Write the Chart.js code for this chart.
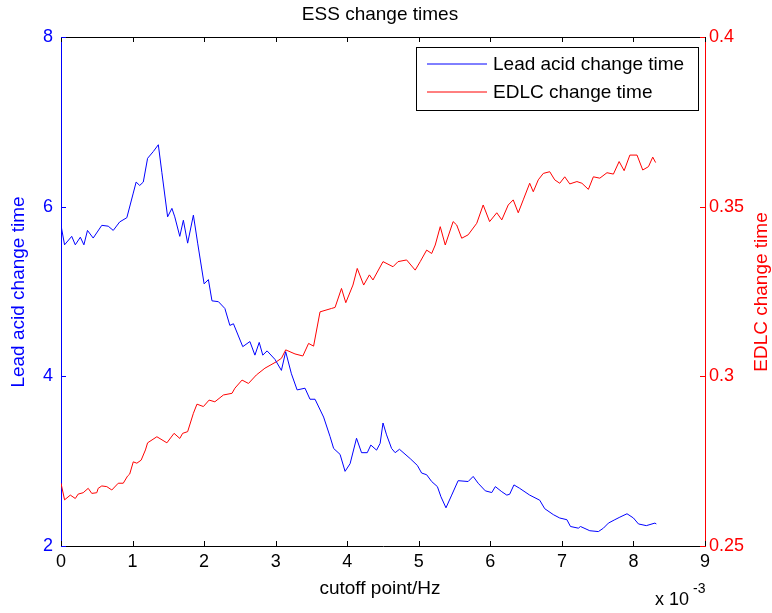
<!DOCTYPE html>
<html>
<head>
<meta charset="utf-8">
<title>ESS change times</title>
<script src="https://cdn.jsdelivr.net/npm/chart.js@4.4.1/dist/chart.umd.min.js"></script>
<style>
    body { margin: 0; background: #fff; }
    #wrap { width: 772px; height: 613px; }
</style>
</head>
<body>
<div id="wrap"><canvas id="essChart" width="772" height="613"></canvas></div>
<script>
// cutoff point in units of 1e-3 Hz
const leadX = [0.00, 0.05, 0.15, 0.20, 0.27, 0.32, 0.37, 0.45, 0.57, 0.66, 0.73, 0.82, 0.92, 1.01, 1.05, 1.10, 1.15, 1.21, 1.29, 1.36,
    1.41, 1.49, 1.55, 1.59, 1.66, 1.71, 1.77, 1.85, 1.91, 2.00, 2.06, 2.11, 2.20, 2.29, 2.36, 2.41, 2.54, 2.64, 2.71, 2.77,
    2.82, 2.88, 2.99, 3.08, 3.14, 3.22, 3.30, 3.41, 3.48, 3.55, 3.67, 3.76, 3.81, 3.90, 3.97, 4.04, 4.13, 4.20, 4.28, 4.33,
    4.41, 4.46, 4.50, 4.55, 4.62, 4.67, 4.73, 4.88, 4.98, 5.04, 5.11, 5.18, 5.26, 5.31, 5.38, 5.46, 5.55, 5.69, 5.76, 5.83,
    5.93, 6.02, 6.07, 6.16, 6.23, 6.27, 6.33, 6.41, 6.55, 6.69, 6.76, 6.88, 6.97, 7.07, 7.12, 7.23, 7.26, 7.39, 7.51, 7.58,
    7.65, 7.74, 7.81, 7.91, 8.00, 8.07, 8.18, 8.30, 8.32];
const leadY = [5.78, 5.55, 5.65, 5.55, 5.64, 5.55, 5.72, 5.63, 5.78, 5.77, 5.72, 5.82, 5.87, 6.16, 6.29, 6.25, 6.29, 6.57, 6.65, 6.73,
    6.40, 5.88, 5.98, 5.88, 5.65, 5.84, 5.57, 5.90, 5.57, 5.09, 5.14, 4.89, 4.88, 4.80, 4.60, 4.62, 4.35, 4.41, 4.25, 4.40,
    4.25, 4.30, 4.20, 4.07, 4.29, 4.03, 3.84, 3.86, 3.73, 3.73, 3.52, 3.29, 3.15, 3.08, 2.88, 2.97, 3.27, 3.10, 3.10, 3.19,
    3.13, 3.21, 3.45, 3.31, 3.15, 3.10, 3.14, 3.03, 2.95, 2.86, 2.84, 2.76, 2.70, 2.58, 2.45, 2.60, 2.77, 2.76, 2.82, 2.74,
    2.65, 2.63, 2.70, 2.64, 2.60, 2.61, 2.72, 2.68, 2.60, 2.54, 2.44, 2.37, 2.33, 2.31, 2.23, 2.21, 2.23, 2.18, 2.17, 2.21,
    2.27, 2.31, 2.34, 2.38, 2.33, 2.26, 2.24, 2.27, 2.26];

const edlcX = [0.00, 0.05, 0.13, 0.20, 0.24, 0.31, 0.38, 0.43, 0.50, 0.52, 0.57, 0.64, 0.71, 0.80, 0.87, 0.93, 0.96, 1.01, 1.06, 1.12,
    1.18, 1.21, 1.34, 1.48, 1.58, 1.66, 1.70, 1.77, 1.85, 1.90, 1.99, 2.07, 2.15, 2.27, 2.39, 2.43, 2.53, 2.62, 2.73, 2.85,
    3.01, 3.08, 3.14, 3.27, 3.38, 3.46, 3.53, 3.62, 3.78, 3.83, 3.92, 3.98, 4.08, 4.14, 4.23, 4.31, 4.36, 4.50, 4.64, 4.71,
    4.83, 4.95, 5.02, 5.11, 5.18, 5.23, 5.30, 5.37, 5.48, 5.53, 5.60, 5.69, 5.81, 5.90, 5.99, 6.09, 6.16, 6.25, 6.32, 6.39,
    6.46, 6.55, 6.60, 6.67, 6.74, 6.83, 6.90, 6.97, 7.04, 7.11, 7.21, 7.28, 7.37, 7.44, 7.53, 7.63, 7.72, 7.80, 7.87, 7.95,
    8.05, 8.13, 8.21, 8.27, 8.31];
const edlcY = [0.2685, 0.2636, 0.2650, 0.2640, 0.2653, 0.2657, 0.2670, 0.2655, 0.2657, 0.2670, 0.2677, 0.2675, 0.2665, 0.2685, 0.2685, 0.2706, 0.2712, 0.2748, 0.2744, 0.2753,
    0.2783, 0.2804, 0.2822, 0.2804, 0.2832, 0.2817, 0.2832, 0.2837, 0.2891, 0.2918, 0.2911, 0.2930, 0.2925, 0.2945, 0.2950, 0.2965, 0.2989, 0.2979, 0.3004, 0.3024,
    0.3043, 0.3053, 0.3078, 0.3066, 0.3060, 0.3097, 0.3089, 0.3190, 0.3200, 0.3203, 0.3259, 0.3217, 0.3269, 0.3318, 0.3269, 0.3299, 0.3284, 0.3338, 0.3323, 0.3338,
    0.3343, 0.3313, 0.3338, 0.3372, 0.3362, 0.3387, 0.3441, 0.3387, 0.3456, 0.3446, 0.3407, 0.3417, 0.3451, 0.3505, 0.3456, 0.3482, 0.3461, 0.3505, 0.3520, 0.3482,
    0.3520, 0.3569, 0.3544, 0.3579, 0.3598, 0.3603, 0.3579, 0.3569, 0.3588, 0.3567, 0.3574, 0.3569, 0.3551, 0.3588, 0.3584, 0.3600, 0.3596, 0.3633, 0.3606, 0.3652,
    0.3652, 0.3608, 0.3618, 0.3646, 0.3630];

const xTicks = [0, 1, 2, 3, 4, 5, 6, 7, 8, 9];
const leftTicks = [2, 4, 6, 8];
const rightTicks = [0.25, 0.3, 0.35, 0.4];
const seriesNames = ['Lead acid change time', 'EDLC change time'];

const FONT = '"Liberation Sans", Arial, sans-serif';
const BLUE = '#0000ff';
const RED = '#ff0000';

function toPoints(xs, ys) {
    return xs.map((x, i) => ({ x: x, y: ys[i] }));
}

// MATLAB style decorations: inward ticks, top border, legend, titles
const matlabDeco = {
    id: 'matlabDeco',
    afterDraw(chart) {
        const ctx = chart.ctx;
        const area = chart.chartArea;
        const sx = chart.scales.x, sy = chart.scales.y, sy1 = chart.scales.y1;
        const tl = 5;
        ctx.save();
        ctx.lineWidth = 1;

        // top border
        ctx.strokeStyle = '#000';
        ctx.beginPath();
        ctx.moveTo(area.left, area.top + 0.5);
        ctx.lineTo(area.right, area.top + 0.5);
        ctx.stroke();

        // x ticks bottom and top
        ctx.beginPath();
        xTicks.forEach(v => {
            const px = Math.round(sx.getPixelForValue(v)) + 0.5;
            ctx.moveTo(px, area.bottom);
            ctx.lineTo(px, area.bottom - tl);
            ctx.moveTo(px, area.top);
            ctx.lineTo(px, area.top + tl);
        });
        ctx.stroke();

        // left ticks (blue)
        ctx.strokeStyle = BLUE;
        ctx.beginPath();
        leftTicks.forEach(v => {
            const py = Math.round(sy.getPixelForValue(v)) + 0.5;
            ctx.moveTo(area.left, py);
            ctx.lineTo(area.left + tl, py);
            ctx.moveTo(area.right, py);
            ctx.lineTo(area.right - tl, py);
        });
        ctx.stroke();

        // right ticks (red)
        ctx.strokeStyle = RED;
        ctx.beginPath();
        rightTicks.forEach(v => {
            const py = Math.round(sy1.getPixelForValue(v)) + 0.5;
            ctx.moveTo(area.right, py);
            ctx.lineTo(area.right - tl, py);
        });
        ctx.stroke();

        // title
        ctx.fillStyle = '#000';
        ctx.font = '19px ' + FONT;
        ctx.textAlign = 'center';
        ctx.textBaseline = 'middle';
        ctx.fillText('ESS change times', 380, 15);

        // x label
        ctx.fillText('cutoff point/Hz', 380, 589);

        // exponent
        ctx.textAlign = 'left';
        ctx.font = '18px ' + FONT;
        ctx.fillText('x 10', 655, 600);
        ctx.font = '14px ' + FONT;
        ctx.fillText('-3', 693, 589);

        // y labels
        ctx.font = '19px ' + FONT;
        ctx.textAlign = 'center';
        ctx.fillStyle = BLUE;
        ctx.save();
        ctx.translate(19, 292);
        ctx.rotate(-Math.PI / 2);
        ctx.fillText('Lead acid change time', 0, 0);
        ctx.restore();

        ctx.fillStyle = RED;
        ctx.save();
        ctx.translate(762, 292);
        ctx.rotate(-Math.PI / 2);
        ctx.fillText('EDLC change time', 0, 0);
        ctx.restore();

        // legend
        const lx = 416, ly = 47, lw = 282, lh = 63;
        ctx.fillStyle = '#fff';
        ctx.fillRect(lx, ly, lw, lh);
        ctx.strokeStyle = '#000';
        ctx.strokeRect(lx + 0.5, ly + 0.5, lw, lh);
        const rows = [[BLUE, 64], [RED, 92]];
        ctx.font = '19px ' + FONT;
        ctx.textAlign = 'left';
        ctx.textBaseline = 'middle';
        rows.forEach((r, i) => {
            ctx.strokeStyle = r[0];
            ctx.beginPath();
            ctx.moveTo(427, r[1]);
            ctx.lineTo(487, r[1]);
            ctx.stroke();
            ctx.fillStyle = '#000';
            ctx.fillText(seriesNames[i], 493, r[1] + 0.5);
        });

        ctx.restore();
    }
};

const ctx = document.getElementById('essChart').getContext('2d');
new Chart(ctx, {
    type: 'line',
    data: {
        datasets: [
            {
                label: seriesNames[0],
                data: toPoints(leadX, leadY),
                borderColor: BLUE,
                borderWidth: 1,
                pointRadius: 0,
                tension: 0,
                yAxisID: 'y'
            },
            {
                label: seriesNames[1],
                data: toPoints(edlcX, edlcY),
                borderColor: RED,
                borderWidth: 1,
                pointRadius: 0,
                tension: 0,
                yAxisID: 'y1'
            }
        ]
    },
    options: {
        responsive: false,
        animation: false,
        layout: { padding: { top: 37, left: 0, right: 0, bottom: 0 } },
        plugins: {
            legend: { display: false },
            title: { display: false },
            tooltip: { enabled: false }
        },
        scales: {
            x: {
                type: 'linear',
                min: 0,
                max: 9,
                afterFit: s => { s.height = 67; },
                afterBuildTicks: s => { s.ticks = xTicks.map(v => ({ value: v })); },
                ticks: { color: '#000', font: { size: 18, family: FONT }, padding: 5, maxRotation: 0 },
                grid: { drawOnChartArea: false, drawTicks: false },
                border: { color: '#000', width: 1 }
            },
            y: {
                position: 'left',
                min: 2,
                max: 8,
                afterFit: s => { s.width = 61; },
                afterBuildTicks: s => { s.ticks = leftTicks.map(v => ({ value: v })); },
                ticks: { color: BLUE, font: { size: 18, family: FONT }, padding: 8 },
                grid: { drawOnChartArea: false, drawTicks: false },
                border: { color: BLUE, width: 1 }
            },
            y1: {
                position: 'right',
                min: 0.25,
                max: 0.4,
                afterFit: s => { s.width = 67; },
                afterBuildTicks: s => { s.ticks = rightTicks.map(v => ({ value: v })); },
                ticks: { color: RED, font: { size: 18, family: FONT }, padding: 4, callback: v => String(v) },
                grid: { drawOnChartArea: false, drawTicks: false },
                border: { color: RED, width: 1 }
            }
        }
    },
    plugins: [matlabDeco]
});
</script>
</body>
</html>
